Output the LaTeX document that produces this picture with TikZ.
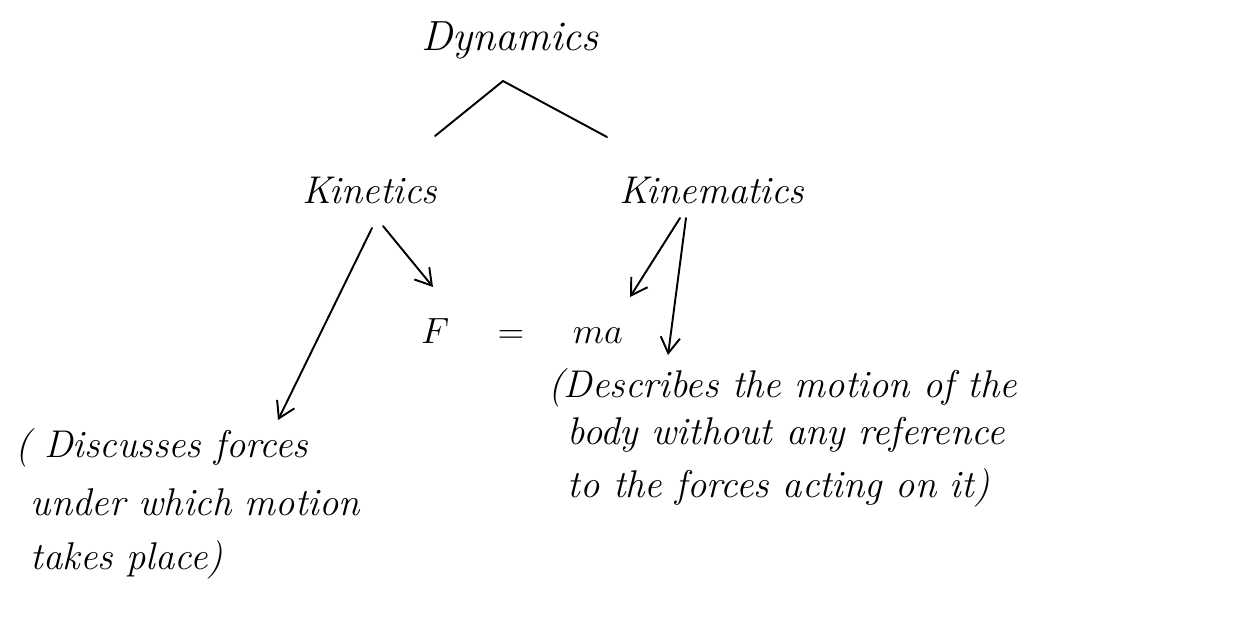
\documentclass[tikz,border=0pt]{standalone}
\usetikzlibrary{arrows.meta}
\begin{document}
\begin{tikzpicture}[x=0.02cm,y=-0.02cm,
  every node/.style={inner sep=0pt},
  hand/.style={font=\fontsize{22}{28}\selectfont\itshape},
  title/.style={font=\fontsize{24}{28}\selectfont\itshape},
  stroke/.style={line width=1.1pt, line cap=round, line join=round},
  arr/.style={stroke, -{Straight Barb[length=9pt,width=11pt,line width=1.1pt]}}]
\useasboundingbox (0,0) rectangle (1236,627);
% nodes
\node[title, anchor=base] (dyn) at (510,50) {Dynamics};
\node[hand, anchor=base] (kin) at (370,203) {Kinetics};
\node[hand, anchor=base] (kinem) at (712,203) {Kinematics};
\node[hand, anchor=base] (fma) at (522,343) {$F\quad=\quad ma$};
\node[hand, anchor=north west, align=left] (desc) at (548,368)
  {(Describes the motion of the\\[-1pt]
   \hspace{0.5em}body without any reference\\[2pt]
   \hspace{0.5em}to the forces acting on it)};
\node[hand, anchor=north west, align=left] (disc) at (15,428)
  {( Discusses forces\\[5pt]
   \hspace{0.4em}under which motion\\[3pt]
   \hspace{0.4em}takes place)};
% tree lines
\coordinate (apex) at (503,81);
\coordinate (kinTop) at (435,136);
\coordinate (kinemTop) at (607,137);
\draw[stroke] (kinTop) -- (apex) -- (kinemTop);
% arrows
\coordinate (k1) at (372,228);
\coordinate (k1e) at (278,420);
\coordinate (k2) at (383,226);
\coordinate (k2e) at (433,287);
\coordinate (m1) at (680,218);
\coordinate (m1e) at (630,297);
\coordinate (m2) at (686,218);
\coordinate (m2e) at (668,355);
\draw[arr] (k1) -- (k1e);
\draw[arr] (k2) -- (k2e);
\draw[arr] (m1) -- (m1e);
\draw[arr] (m2) -- (m2e);
\end{tikzpicture}
\end{document}
